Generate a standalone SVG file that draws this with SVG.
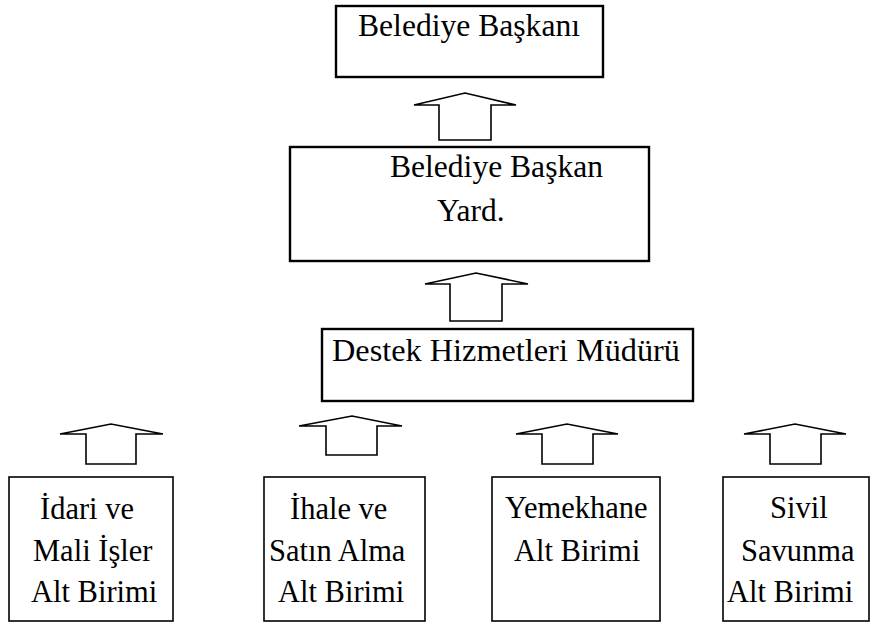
<svg xmlns="http://www.w3.org/2000/svg" width="872" height="624" viewBox="0 0 872 624">
  <style>
    .box { fill: #fff; stroke: #000; stroke-width: 2.4; }
    .unit { fill: #fff; stroke: #000; stroke-width: 1.6; }
    .arrow { fill: #fff; stroke: #000; stroke-width: 1.6; stroke-linejoin: miter; }
    .big { font-size: 31.5px; }
  </style>
  <rect width="872" height="624" fill="#fff"/>

  <!-- block arrows pointing up to the superior unit -->
  <g id="connectors">
    <polygon class="arrow" points="414,105 465,93 516,105 491,105 491,140 439,140 439,105"/>
    <polygon class="arrow" points="425,284 476,273 528,284 502,284 502,321 450,321 450,284"/>
    <polygon class="arrow" points="60,434 111,424 163,434 136,434 136,464 86,464 86,434"/>
    <polygon class="arrow" points="299,426 352,416 402,426 377,426 377,455 326,455 326,426"/>
    <polygon class="arrow" points="516,434 567,424 618,434 593,434 593,464 542,464 542,434"/>
    <polygon class="arrow" points="744,434 795,424 846,434 821,434 821,464 770,464 770,434"/>
  </g>

  <g font-family="Liberation Serif, DejaVu Serif, serif" font-size="30.5" fill="#000">
    <g id="baskan">
      <rect class="box" x="336" y="6" width="267" height="71"/>
      <text class="big" x="358" y="36" textLength="222" lengthAdjust="spacingAndGlyphs">Belediye Başkanı</text>
    </g>

    <g id="baskan-yard">
      <rect class="box" x="290" y="147" width="359" height="114"/>
      <text class="big" x="390" y="177" textLength="213" lengthAdjust="spacingAndGlyphs">Belediye Başkan</text>
      <text class="big" x="437" y="221">Yard.</text>
    </g>

    <g id="mudur">
      <rect class="box" x="322" y="329" width="371" height="72"/>
      <text class="big" x="332" y="361" textLength="348" lengthAdjust="spacingAndGlyphs">Destek Hizmetleri Müdürü</text>
    </g>

    <g id="idari">
      <rect class="unit" x="9" y="477" width="164" height="144"/>
      <text x="40" y="519">İdari ve</text>
      <text x="33" y="561">Mali İşler</text>
      <text x="31" y="602">Alt Birimi</text>
    </g>

    <g id="ihale">
      <rect class="unit" x="264" y="477" width="161" height="144"/>
      <text x="290" y="519">İhale ve</text>
      <text x="269" y="561">Satın Alma</text>
      <text x="278" y="602">Alt Birimi</text>
    </g>

    <g id="yemekhane">
      <rect class="unit" x="492" y="477" width="168" height="144"/>
      <text x="505" y="518">Yemekhane</text>
      <text x="514" y="561">Alt Birimi</text>
    </g>

    <g id="sivil">
      <rect class="unit" x="723" y="477" width="146" height="144"/>
      <text x="770" y="518">Sivil</text>
      <text x="741" y="561">Savunma</text>
      <text x="727" y="602">Alt Birimi</text>
    </g>
  </g>
</svg>
